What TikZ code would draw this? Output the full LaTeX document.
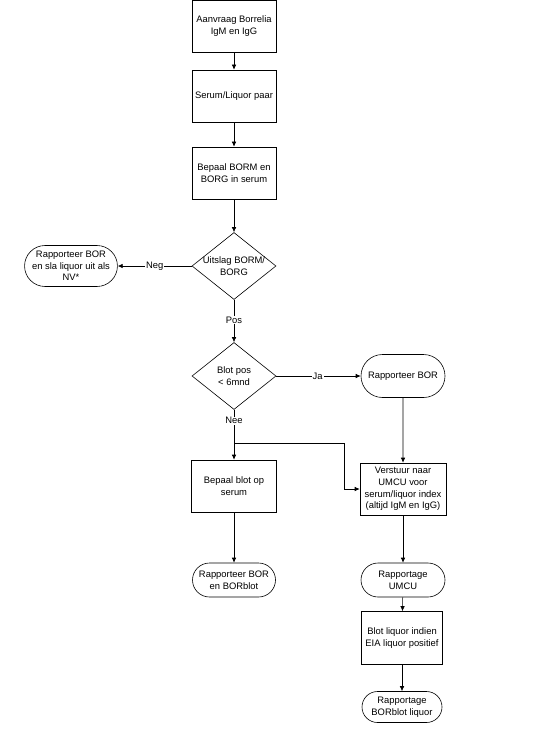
\documentclass[tikz,border=0pt]{standalone}
\usepackage{fontspec}
\setmainfont{Liberation Sans}
\usetikzlibrary{shapes.geometric,shapes.misc,arrows.meta}
\begin{document}
\begin{tikzpicture}[x=1pt,y=-1pt,
  every node/.style={font=\fontsize{9.4}{11.7}\selectfont, align=center},
  procbox/.style={draw, line width=0.6pt, minimum width=84pt, minimum height=52pt, inner sep=1pt},
  termbox/.style={draw, line width=0.6pt, rounded rectangle, minimum width=86pt, inner sep=1pt},
  decbox/.style={draw, line width=0.6pt, diamond, minimum width=84pt, minimum height=67pt, inner sep=0pt},
  conn/.style={line width=0.6pt, -{Latex[length=5pt,width=4.5pt]}},
  lbl/.style={fill=white, inner sep=1pt}]
\useasboundingbox (0,0) rectangle (552,738);
\node[procbox] (b1) at (234,26) {Aanvraag Borrelia\\IgM en IgG};
\node[procbox] (b2) at (234,96) {Serum/Liquor paar};
\node[procbox] (b3) at (234,173) {Bepaal BORM en\\BORG in serum};
\node[decbox, label={[align=center]center:Uitslag BORM/\\BORG}] (d1) at (234,266) {};
\node[termbox, minimum height=41pt, minimum width=87pt] (t1) at (71,266) {Rapporteer BOR\\en sla liquor uit als\\NV*};
\node[decbox, label={[align=center]center:Blot pos\\< 6mnd}] (d2) at (234,376) {};
\node[termbox, minimum height=43pt] (t2) at (403,376) {Rapporteer BOR};
\node[procbox, minimum width=85pt] (b4) at (234,486) {Bepaal blot op\\serum};
\node[procbox, minimum width=86pt] (b5) at (403,489) {Verstuur naar\\UMCU voor\\serum/liquor index\\(altijd IgM en IgG)};
\node[termbox, minimum height=34pt, minimum width=85pt] (t3) at (234,580) {Rapporteer BOR\\en BORblot};
\node[termbox, minimum height=34pt] (t4) at (403,580) {Rapportage\\UMCU};
\node[procbox, minimum width=81pt, minimum height=53pt] (b6) at (402,638) {Blot liquor indien\\EIA liquor positief};
\node[termbox, minimum height=31pt, minimum width=82pt] (t5) at (402,707) {Rapportage\\BORblot liquor};
\coordinate (br1) at (234,443);
\coordinate (br2) at (344,443);
\coordinate (br3) at (344,489);
\draw[conn] (b1) -- (b2);
\draw[conn] (b2) -- (b3);
\draw[conn] (b3) -- (d1.north);
\draw[conn] (d1.west) -- node[lbl, pos=0.5]{Neg} (t1.east);
\draw[conn] (d1.south) -- node[lbl, pos=0.48]{Pos} (d2.north);
\draw[conn] (d2.east) -- node[lbl, pos=0.49]{Ja} (t2.west);
\draw[conn] (d2.south) -- node[lbl, pos=0.22]{Nee} (b4.north);
\draw[conn] (br1) -- (br2) -- (br3) -- (b5.west);
\draw[conn] (t2) -- (b5);
\draw[conn] (b4) -- (t3);
\draw[conn] (b5) -- (t4);
\draw[conn] (t4) -- (b6);
\draw[conn] (b6) -- (t5);
\end{tikzpicture}
\end{document}
